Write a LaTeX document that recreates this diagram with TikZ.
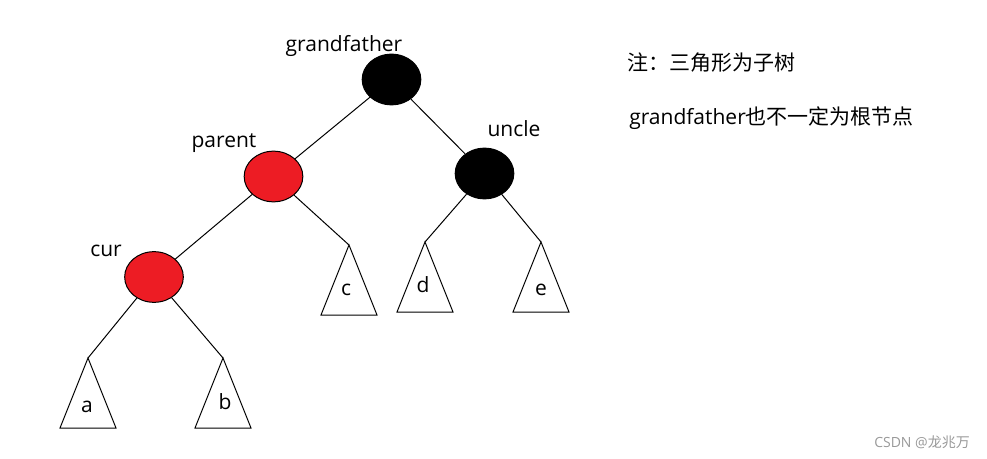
\documentclass[tikz,border=0pt]{standalone}
\usepackage{fontspec}
\setmainfont{Open Sans}
\newfontfamily\cjk{Noto Sans CJK SC}
\usetikzlibrary{shapes.geometric}
\definecolor{rbred}{HTML}{ED1C24}
\definecolor{markgray}{HTML}{999999}

\begin{document}
\begin{tikzpicture}[
    rbnode/.style={ellipse, draw=black, line width=0.75pt, minimum width=44pt, minimum height=38pt, inner sep=0pt},
    blacknode/.style={rbnode, fill=black},
    rednode/.style={rbnode, fill=rbred},
    tag/.style={font=\fontsize{15.75}{18}\selectfont, anchor=base, inner sep=0pt},
    note/.style={tag, anchor=base west},
    subtree/.style={draw=black, line width=0.75pt, line join=miter},
    link/.style={line width=0.75pt},
    x=0.75pt, y=-0.75pt]

    \useasboundingbox (0,0) rectangle (987,459);

    % ----- the four coloured nodes around cur
    \node[blacknode] (gf)     at (391.5, 79.5) {};
    \node[blacknode] (uncle)  at (484.5,173.5) {};
    \node[rednode]   (parent) at (273.5,176.5) {};
    \node[rednode]   (cur)    at (154,  277)   {};

    \node[tag] (gflabel)     at (344, 52)  {grandfather};
    \node[tag] (unclelabel)  at (514, 137) {uncle};
    \node[tag] (parentlabel) at (224, 148) {parent};
    \node[tag] (curlabel)    at (106, 257) {cur};

    % ----- subtrees drawn as triangles, apex is the free end of each link
    \foreach \t/\x/\y/\lx/\ly in {a/88/358/87/412, b/223/358/225/409, c/349/245/346/296,
                                 d/425/242/423/292, e/541/242/541/296} {
        \coordinate (tip\t) at (\x,\y);
        \draw[subtree] (tip\t) -- ++(-28,70) -- ++(56,0) -- cycle;
        \node[tag] (label\t) at (\lx,\ly) {\t};
    }

    \draw[link] (gf) -- (parent);
    \draw[link] (gf) -- (uncle);
    \draw[link] (parent) -- (cur);
    \draw[link] (parent) -- (tipc);
    \draw[link] (uncle) -- (tipd);
    \draw[link] (uncle) -- (tipe);
    \draw[link] (cur) -- (tipa);
    \draw[link] (cur) -- (tipb);

    % ----- notes on the right
    \node[note] (note1) at (627, 71)  {\cjk 注：三角形为子树};
    \node[note] (note2) at (629, 125) {grandfather{\cjk 也不一定为根节点}};

    \node[tag, anchor=base east, font=\fontsize{10.5}{12}\selectfont, text=markgray] (mark)
        at (970, 447) {CSDN @{\cjk 龙兆万}};
\end{tikzpicture}
\end{document}
